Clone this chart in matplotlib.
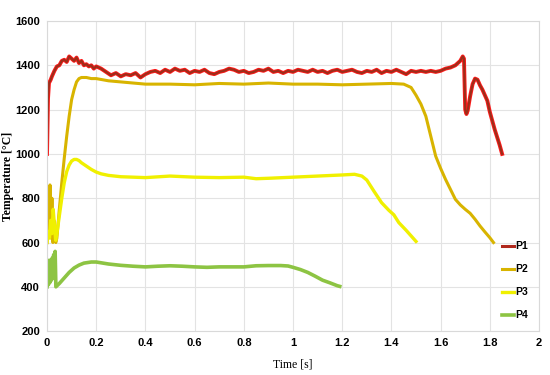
import matplotlib.pyplot as plt
import numpy as np

# P1 - top trace (noisy)
t1 = [0, 0.004, 0.008, 0.015, 0.02, 0.03, 0.04, 0.05, 0.06, 0.07, 0.08, 0.09, 0.10, 0.11, 0.12,
      0.13, 0.14, 0.15, 0.16, 0.17, 0.18, 0.19, 0.20, 0.22, 0.24, 0.26, 0.28, 0.30, 0.32, 0.34,
      0.36, 0.38, 0.40, 0.42, 0.44, 0.46, 0.48, 0.50, 0.52, 0.54, 0.56, 0.58, 0.60, 0.62, 0.64,
      0.66, 0.68, 0.70, 0.72, 0.74, 0.76, 0.78, 0.80, 0.82, 0.84, 0.86, 0.88, 0.90, 0.92, 0.94,
      0.96, 0.98, 1.00, 1.02, 1.04, 1.06, 1.08, 1.10, 1.12, 1.14, 1.16, 1.18, 1.20, 1.22, 1.24,
      1.26, 1.28, 1.30, 1.32, 1.34, 1.36, 1.38, 1.40, 1.42, 1.44, 1.46, 1.48, 1.50, 1.52, 1.54,
      1.56, 1.58, 1.60, 1.62, 1.64, 1.66, 1.68, 1.69, 1.695, 1.70, 1.705, 1.71, 1.72, 1.73, 1.74,
      1.75, 1.76, 1.77, 1.78, 1.79, 1.80, 1.82, 1.84, 1.85]
T1 = [1000, 1250, 1320, 1335, 1350, 1375, 1395, 1400, 1420, 1425, 1415, 1440, 1430, 1420, 1435,
      1410, 1420, 1400, 1405, 1395, 1400, 1385, 1395, 1385, 1370, 1355, 1365, 1350, 1360, 1355,
      1365, 1345, 1360, 1370, 1375, 1365, 1380, 1370, 1385, 1375, 1380, 1365, 1375, 1370, 1380,
      1365, 1360, 1370, 1375, 1385, 1380, 1370, 1375, 1365, 1370, 1380, 1375, 1385, 1370, 1375,
      1365, 1375, 1370, 1380, 1375, 1370, 1380, 1370, 1375, 1365, 1375, 1380, 1370, 1375, 1380,
      1370, 1365, 1375, 1370, 1380, 1365, 1375, 1370, 1380, 1370, 1360, 1375, 1370, 1375, 1370,
      1375, 1370, 1375, 1385, 1390, 1400, 1420, 1440, 1430, 1200, 1180, 1195, 1260, 1315, 1340,
      1335, 1310, 1290, 1265, 1240, 1190, 1110, 1040, 1000]

# P2
t2 = [0, 0.004, 0.008, 0.012, 0.016, 0.02, 0.024, 0.028, 0.032, 0.036, 0.04, 0.05, 0.06, 0.07,
      0.08, 0.09, 0.10, 0.11, 0.12, 0.13, 0.14, 0.16, 0.18, 0.20, 0.25, 0.30, 0.35, 0.40, 0.50,
      0.60, 0.70, 0.80, 0.90, 1.00, 1.10, 1.20, 1.30, 1.40, 1.45, 1.48, 1.50, 1.52, 1.54, 1.56,
      1.58, 1.60, 1.62, 1.64, 1.66, 1.68, 1.70, 1.72, 1.74, 1.76, 1.78, 1.80, 1.815]
T2 = [600, 720, 640, 860, 620, 800, 600, 700, 610, 600, 620, 750, 870, 980,
      1080, 1170, 1245, 1290, 1325, 1340, 1345, 1345, 1340, 1340, 1330, 1325, 1320, 1315, 1315,
      1312, 1318, 1315, 1320, 1315, 1315, 1312, 1315, 1318, 1315, 1300, 1265, 1225, 1170, 1080,
      990, 935, 885, 840, 795, 770, 750, 732, 705, 675, 648, 622, 600]

# P3
t3 = [0, 0.005, 0.01, 0.015, 0.02, 0.025, 0.03, 0.035, 0.04, 0.05, 0.06, 0.07, 0.08, 0.09,
      0.10, 0.11, 0.12, 0.13, 0.14, 0.16, 0.18, 0.20, 0.22, 0.25, 0.30, 0.40, 0.50, 0.60, 0.70,
      0.80, 0.85, 0.90, 1.00, 1.10, 1.20, 1.25, 1.28, 1.30, 1.33, 1.36, 1.39, 1.41, 1.43, 1.46,
      1.48, 1.50]
T3 = [600, 650, 620, 700, 640, 750, 680, 610, 640, 720, 800, 870, 920, 950,
      968, 975, 975, 970, 960, 945, 930, 918, 910, 903, 897, 893, 900, 895, 893,
      895, 888, 890, 895, 900, 905, 908, 900, 882, 830, 780, 745, 725, 690, 655,
      630, 605]

# P4
t4 = [0, 0.003, 0.006, 0.009, 0.012, 0.015, 0.018, 0.021, 0.024, 0.027, 0.03, 0.033, 0.036,
      0.05, 0.07, 0.09, 0.11, 0.13, 0.15, 0.18, 0.20, 0.25, 0.30, 0.35, 0.40, 0.45, 0.50, 0.55,
      0.60, 0.65, 0.70, 0.75, 0.80, 0.85, 0.90, 0.95, 0.98, 1.00, 1.03, 1.06, 1.09, 1.12, 1.15,
      1.18, 1.19]
T4 = [400, 500, 410, 520, 420, 510, 430, 530, 440, 545, 450, 560, 400,
      415, 440, 465, 485, 498, 507, 512, 512, 503, 497, 493, 490, 493, 495, 493,
      490, 488, 490, 490, 490, 495, 496, 496, 494, 488, 478, 465, 448, 430, 418,
      405, 402]

labels = ['P1', 'P2', 'P3', 'P4']
xticks = [0, 0.2, 0.4, 0.6, 0.8, 1, 1.2, 1.4, 1.6, 1.8, 2]
xticklabels = ['0', '0.2', '0.4', '0.6', '0.8', '1', '1.2', '1.4', '1.6', '1.8', '2']
yticks = [200, 400, 600, 800, 1000, 1200, 1400, 1600]

plt.rcParams['font.family'] = ['Liberation Sans Narrow', 'Liberation Sans', 'DejaVu Sans']

fig = plt.figure(figsize=(5.5, 3.75), dpi=100)
ax = fig.add_axes([0.0855, 0.117, 0.8945, 0.827])

# P1: red band with dark red line on top
ax.plot(t1, T1, color='#ff1a1a', lw=2.8)
ax.plot(t1, T1, color='#9c2e1a', lw=1.5)
ax.plot(t2, T2, color='#d8b400', lw=2.2)
ax.plot(t3, T3, color='#f0f000', lw=2.4)
ax.plot(t4, T4, color='#8dc443', lw=2.6)

# legend proxies
h1, = ax.plot([], [], color='#b0281c', lw=2.2)
h2, = ax.plot([], [], color='#d8b400', lw=2.2)
h3, = ax.plot([], [], color='#f0f000', lw=2.4)
h4, = ax.plot([], [], color='#8dc443', lw=2.6)
leg = ax.legend([h1, h2, h3, h4], labels, loc='upper left', bbox_to_anchor=(0.905, 0.32),
                frameon=False, handlelength=1.2, handletextpad=0.1, labelspacing=1.25,
                prop={'weight': 'bold', 'size': 7.5})

ax.set_xlim(0, 2)
ax.set_ylim(200, 1600)
ax.set_xticks(xticks)
ax.set_xticklabels(xticklabels)
ax.set_yticks(yticks)
ax.tick_params(length=0, labelsize=8, pad=5)
for lab in ax.get_xticklabels() + ax.get_yticklabels():
    lab.set_fontweight('bold')

ax.grid(True, color='#e3e3e3', lw=0.8)
ax.set_axisbelow(True)
for s in ax.spines.values():
    s.set_color('#d9d9d9')
    s.set_linewidth(0.8)

ax.set_xlabel('Time [s]', family='Liberation Serif', fontsize=8.5)
ax.set_ylabel('Temperature [°C]', family='Liberation Serif', fontsize=8.5, fontweight='bold')
ax.xaxis.set_label_coords(0.5, -0.088)
ax.yaxis.set_label_coords(-0.068, 0.5)

fig.savefig('out.png', dpi=100)
